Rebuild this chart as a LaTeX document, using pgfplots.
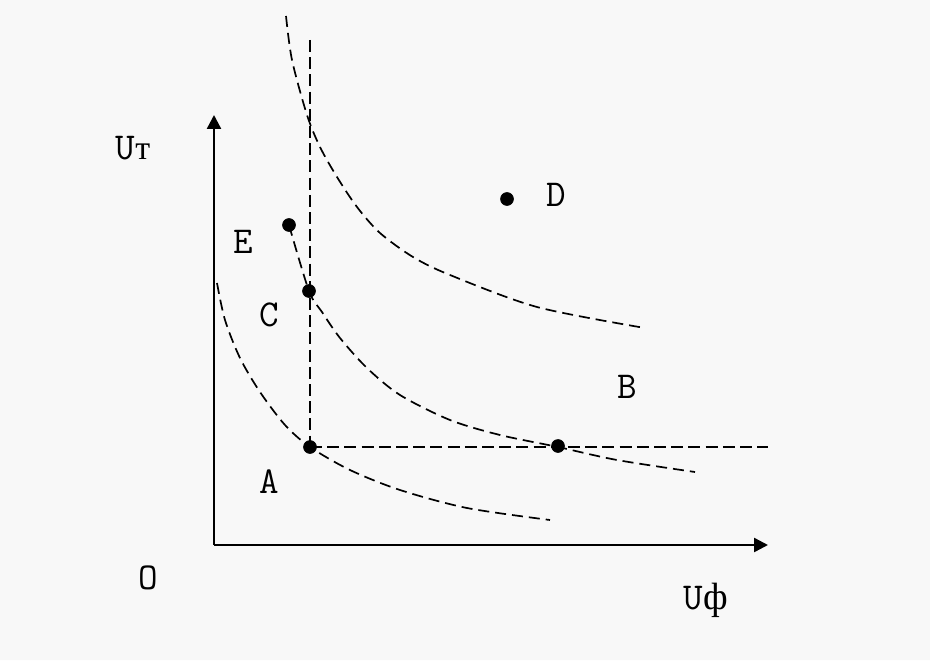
\documentclass[border=0pt]{standalone}
\usepackage{pgfplots}
\pgfplotsset{compat=1.18}
\usepackage{fontspec}
\newfontfamily\cyr{Liberation Serif}
\usetikzlibrary{arrows.meta}
\definecolor{bgc}{RGB}{248,248,248}
\begin{document}
\begin{tikzpicture}
\begin{axis}[
  hide axis, scale only axis, width=465pt, height=330pt,
  xmin=0, xmax=930, ymin=0, ymax=660, clip=false,
]
\addplot[draw=none, fill=bgc] coordinates {(0,0)(930,0)(930,660)(0,660)(0,0)};
% axes
\addplot[line width=1.2pt, -{Triangle[length=7pt,width=7pt]}] coordinates {(214,115)(214,545)};
\addplot[line width=1.2pt, -{Triangle[length=7pt,width=7pt]}] coordinates {(214,115)(768,115)};
% dashed guide lines
\addplot[line width=1pt, dash pattern=on 6pt off 2.6pt] coordinates {(310,620)(310,213)};
\addplot[line width=1pt, dash pattern=on 6pt off 2.6pt] coordinates {(310,213)(768,213)};
% curves
\addplot[line width=0.85pt, dash pattern=on 5.5pt off 3pt, smooth] coordinates {
(217,377)(225,340)(240,302)(260,268)(285,235)(310,213)(350,190)(400,170)(467,152)(550,140)};
\addplot[line width=0.85pt, dash pattern=on 5.5pt off 3pt, smooth] coordinates {
(289,435)(309,369)(322,348)(340,322)(367,292)(400,265)(450,240)(500,225)(558,213)(617,200)(695,188)};
\addplot[line width=0.85pt, dash pattern=on 5.5pt off 3pt, smooth] coordinates {
(286,644)(292,600)(307,545)(320,513)(337,483)(357,453)(380,427)(413,403)(450,385)(537,353)(645,332)};
% points
\addplot[only marks, mark=*, mark size=3.2pt, black] coordinates {
(507,461)(289,435)(309,369)(310,213)(558,214)};
% labels
\tikzset{lab/.style={font=\ttfamily\fontsize{19}{19}\selectfont}}
\node[lab] at (axis cs:133,512) {U{\cyr\fontsize{17}{17}\selectfont т}};
\node[lab] at (axis cs:243,418) {E};
\node[lab] at (axis cs:269,345) {C};
\node[lab] at (axis cs:269,178) {A};
\node[lab] at (axis cs:148,82) {O};
\node[lab] at (axis cs:706,60) {U{\cyr\fontsize{19}{19}\selectfont ф}};
\node[lab] at (axis cs:556,465) {D};
\node[lab] at (axis cs:627,273) {B};
\end{axis}
\end{tikzpicture}
\end{document}
